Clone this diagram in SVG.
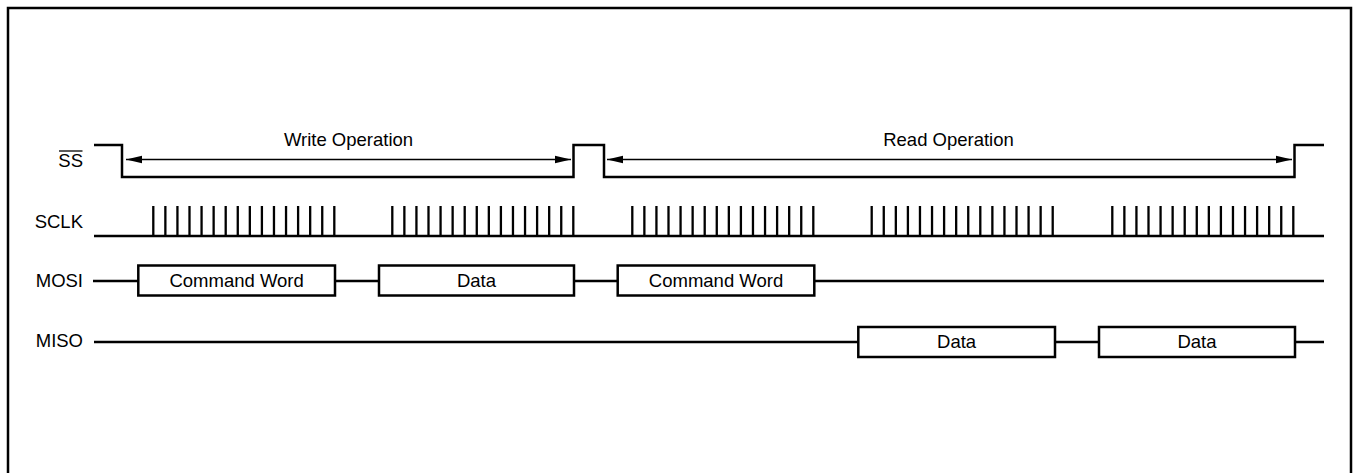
<svg xmlns="http://www.w3.org/2000/svg" xmlns:xlink="http://www.w3.org/1999/xlink" width="1357" height="473" viewBox="0 0 1357 473">
<style>
  .lbl { font-family: "Liberation Sans", Arial, sans-serif; font-size: 18.5px; fill: #000; }
  .wave { fill: none; stroke: #000; stroke-width: 2.5; }
  .box { fill: #fff; stroke: #000; stroke-width: 2.5; }
  .pulse { fill: none; stroke: #000; stroke-width: 2.3; }
  .dim { fill: none; stroke: #000; stroke-width: 1.3; }
</style>
<defs>
  <marker id="ah" markerWidth="17" markerHeight="9" refX="16" refY="4.5" orient="auto-start-reverse" markerUnits="userSpaceOnUse">
    <path d="M0,0.8 L16,4.5 L0,8.2 Z" fill="#000"/>
  </marker>
  <path id="burst" class="pulse" d="M0,206v30 m12.067,-30v30 m12.067,-30v30 m12.067,-30v30 m12.067,-30v30 m12.067,-30v30 m12.067,-30v30 m12.067,-30v30 m12.067,-30v30 m12.067,-30v30 m12.067,-30v30 m12.067,-30v30 m12.067,-30v30 m12.067,-30v30 m12.067,-30v30 m12.067,-30v30"/>
</defs>
<rect width="1357" height="473" fill="#fff"/>
<rect x="8" y="8" width="1343" height="520" fill="none" stroke="#000" stroke-width="2.5"/>

<g id="ss">
  <text class="lbl" x="83" y="167" text-anchor="end">SS</text>
  <line x1="59" y1="151" x2="82.5" y2="151" stroke="#000" stroke-width="1.3"/>
  <path class="wave" d="M94,145 H122 V177 H573.5 V145 H604 V177 H1294.5 V145 H1324"/>
</g>

<g id="sclk">
  <text class="lbl" x="83" y="228" text-anchor="end">SCLK</text>
  <path class="wave" d="M94,236 H1324"/>
  <use xlink:href="#burst" x="153.3"/>
  <use xlink:href="#burst" x="392.3"/>
  <use xlink:href="#burst" x="632.3"/>
  <use xlink:href="#burst" x="871.7"/>
  <use xlink:href="#burst" x="1112.3"/>
</g>

<g id="mosi">
  <text class="lbl" x="83" y="287" text-anchor="end">MOSI</text>
  <path class="wave" d="M93,281 H1324"/>
  <rect class="box" x="138.3" y="265.5" width="196.7" height="30"/>
  <text class="lbl" x="236.6" y="287" text-anchor="middle">Command Word</text>
  <rect class="box" x="379" y="265.5" width="195" height="30"/>
  <text class="lbl" x="476.5" y="287" text-anchor="middle">Data</text>
  <rect class="box" x="617.7" y="265.5" width="196.6" height="30"/>
  <text class="lbl" x="716" y="287" text-anchor="middle">Command Word</text>
</g>

<g id="miso">
  <text class="lbl" x="83" y="347" text-anchor="end">MISO</text>
  <path class="wave" d="M94,342 H1324"/>
  <rect class="box" x="858.3" y="327" width="196.7" height="30"/>
  <text class="lbl" x="956.6" y="348" text-anchor="middle">Data</text>
  <rect class="box" x="1099" y="327" width="196" height="30"/>
  <text class="lbl" x="1197" y="348" text-anchor="middle">Data</text>
</g>

<g id="connectors">
  <line class="dim" x1="126" y1="159.5" x2="571" y2="159.5" marker-start="url(#ah)" marker-end="url(#ah)"/>
  <text class="lbl" x="348.5" y="146" text-anchor="middle">Write Operation</text>
  <line class="dim" x1="607" y1="159.5" x2="1292" y2="159.5" marker-start="url(#ah)" marker-end="url(#ah)"/>
  <text class="lbl" x="948.5" y="146" text-anchor="middle">Read Operation</text>
</g>
</svg>
